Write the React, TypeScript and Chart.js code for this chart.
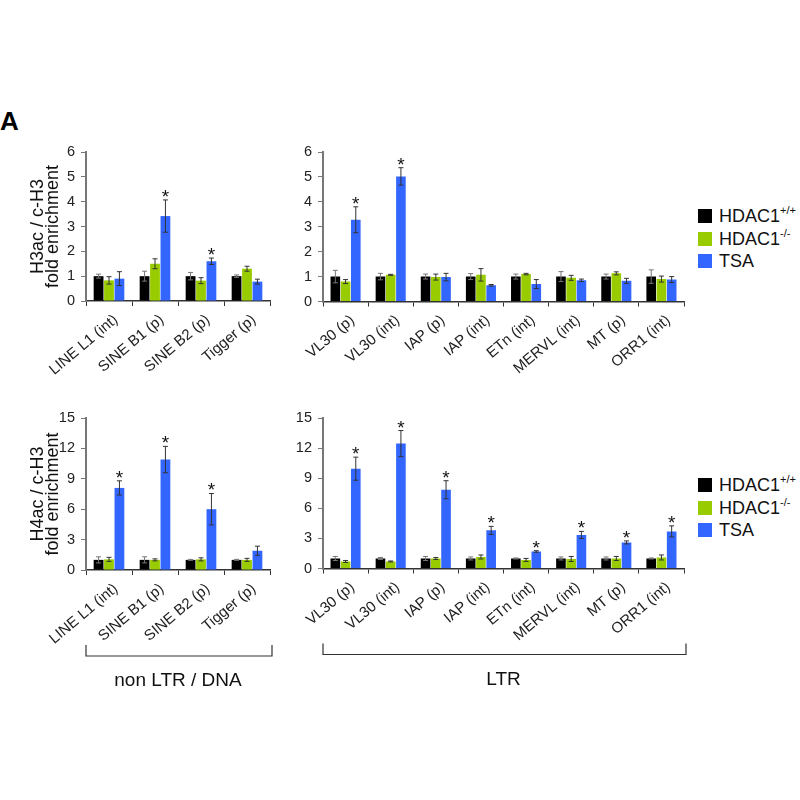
import { useEffect, useRef } from "react";
import { Chart, registerables, type ChartConfiguration, type Plugin } from "chart.js";

Chart.register(...registerables);

const FONT = '"Liberation Sans", Arial, Helvetica, sans-serif';
const WT_COLOR = "#000000";
const KO_COLOR = "#99cc00";
const TSA_COLOR = "#3366ff";

// categories
const nonLtrLabels = ["LINE L1 (int)", "SINE B1 (p)", "SINE B2 (p)", "Tigger (p)"];
const ltrLabels = ["VL30 (p)", "VL30 (int)", "IAP (p)", "IAP (int)", "ETn (int)", "MERVL (int)", "MT (p)", "ORR1 (int)"];

// H3ac / c-H3, non LTR / DNA
const h3NonLtrWt = [1.0, 1.0, 1.0, 1.0];
const h3NonLtrWtErr = [0.08, 0.2, 0.15, 0.05];
const h3NonLtrKo = [0.83, 1.5, 0.82, 1.3];
const h3NonLtrKoErr = [0.15, 0.2, 0.12, 0.1];
const h3NonLtrTsa = [0.9, 3.42, 1.6, 0.78];
const h3NonLtrTsaErr = [0.28, 0.65, 0.13, 0.1];
const h3NonLtrSig = [false, true, true, false];

// H3ac / c-H3, LTR
const h3LtrWt = [1.0, 1.0, 1.0, 1.0, 1.0, 1.0, 1.0, 1.0];
const h3LtrWtErr = [0.25, 0.13, 0.1, 0.12, 0.1, 0.2, 0.1, 0.27];
const h3LtrKo = [0.8, 1.07, 0.98, 1.07, 1.1, 0.95, 1.13, 0.9];
const h3LtrKoErr = [0.08, 0.02, 0.12, 0.25, 0.03, 0.1, 0.06, 0.12];
const h3LtrTsa = [3.28, 5.02, 0.98, 0.65, 0.7, 0.85, 0.83, 0.88];
const h3LtrTsaErr = [0.52, 0.35, 0.15, 0.03, 0.18, 0.05, 0.1, 0.12];
const h3LtrSig = [true, true, false, false, false, false, false, false];

// H4ac / c-H3, non LTR / DNA
const h4NonLtrWt = [1.0, 1.0, 1.0, 1.0];
const h4NonLtrWtErr = [0.3, 0.3, 0.05, 0.05];
const h4NonLtrKo = [1.05, 1.0, 1.05, 1.0];
const h4NonLtrKoErr = [0.2, 0.1, 0.15, 0.15];
const h4NonLtrTsa = [8.1, 10.9, 6.0, 1.9];
const h4NonLtrTsaErr = [0.7, 1.3, 1.55, 0.45];
const h4NonLtrSig = [true, true, true, false];

// H4ac / c-H3, LTR
const h4LtrWt = [1.0, 1.0, 1.0, 1.0, 1.0, 1.0, 1.0, 1.0];
const h4LtrWtErr = [0.2, 0.1, 0.2, 0.15, 0.05, 0.15, 0.15, 0.05];
const h4LtrKo = [0.7, 0.7, 1.0, 1.15, 0.85, 0.95, 1.0, 1.1];
const h4LtrKoErr = [0.1, 0.05, 0.1, 0.2, 0.15, 0.25, 0.2, 0.25];
const h4LtrTsa = [9.95, 12.45, 7.85, 3.8, 1.7, 3.35, 2.6, 3.7];
const h4LtrTsaErr = [1.15, 1.3, 0.9, 0.4, 0.08, 0.35, 0.15, 0.55];
const h4LtrSig = [true, true, true, true, true, true, true, true];

const seriesColors = [WT_COLOR, KO_COLOR, TSA_COLOR];

interface Box {
  left: number;
  top: number;
  width: number;
  height: number;
}

interface Area {
  left: number;
  top: number;
  right: number;
  bottom: number;
}

interface PanelProps {
  labels: string[];
  values: number[][];
  errors: number[][];
  significant: boolean[];
  yMax: number;
  yStep: number;
  yTitle?: string[];
  group?: string;
  box: Box;
  area: Area;
}

function Panel({ labels, values, errors, significant, yMax, yStep, yTitle, group, box, area }: PanelProps) {
  const canvasRef = useRef<HTMLCanvasElement>(null);

  useEffect(() => {
    const canvas = canvasRef.current;
    if (!canvas) return;

    const yWidth = area.left - box.left;
    const xHeight = box.top + box.height - area.bottom;

    const errorBarPlugin: Plugin = {
      id: "errorBars",
      afterDatasetsDraw(chart) {
        const { ctx } = chart;
        const yScale = chart.scales["y"];
        ctx.save();
        chart.data.datasets.forEach((_, di) => {
          const meta = chart.getDatasetMeta(di);
          meta.data.forEach((bar, i) => {
            const v = values[di][i];
            const e = errors[di][i];
            const x = bar.x;
            const yt = yScale.getPixelForValue(v + e);
            const yb = yScale.getPixelForValue(Math.max(0, v - e));
            ctx.strokeStyle = di === 0 ? "#777" : "#333";
            ctx.lineWidth = 1;
            ctx.beginPath();
            ctx.moveTo(x, yt);
            ctx.lineTo(x, yb);
            ctx.moveTo(x - 2.5, yt);
            ctx.lineTo(x + 2.5, yt);
            ctx.moveTo(x - 2.5, yb);
            ctx.lineTo(x + 2.5, yb);
            ctx.stroke();
            if (di === 2 && significant[i]) {
              ctx.fillStyle = "#111";
              ctx.font = `19px ${FONT}`;
              ctx.textAlign = "center";
              ctx.textBaseline = "alphabetic";
              ctx.fillText("*", x, yt + 3);
            }
          });
        });
        ctx.restore();
      },
    };

    const bracketPlugin: Plugin = {
      id: "bracket",
      afterDraw(chart) {
        if (!group) return;
        const { ctx, chartArea } = chart;
        const y = chartArea.bottom + 86;
        ctx.save();
        ctx.strokeStyle = "#333";
        ctx.lineWidth = 1.2;
        ctx.beginPath();
        ctx.moveTo(chartArea.left, y - 11);
        ctx.lineTo(chartArea.left, y);
        ctx.lineTo(chartArea.right + 2, y);
        ctx.lineTo(chartArea.right + 2, y - 11);
        ctx.stroke();
        ctx.fillStyle = "#111";
        ctx.font = `19px ${FONT}`;
        ctx.textAlign = "center";
        ctx.textBaseline = "middle";
        ctx.fillText(group, (chartArea.left + chartArea.right) / 2, chartArea.bottom + 111);
        ctx.restore();
      },
    };

    const config: ChartConfiguration = {
      type: "bar",
      data: {
        labels,
        datasets: values.map((data, i) => ({
          data,
          backgroundColor: seriesColors[i],
          borderWidth: 0,
          categoryPercentage: 0.68,
          barPercentage: 0.94,
        })),
      },
      options: {
        responsive: false,
        animation: false,
        events: [],
        layout: {
          padding: {
            top: area.top - box.top,
            right: box.left + box.width - area.right,
            left: 0,
            bottom: 0,
          },
        },
        plugins: {
          legend: { display: false },
          tooltip: { enabled: false },
        },
        scales: {
          x: {
            afterFit: (scale) => {
              scale.height = xHeight;
            },
            grid: {
              display: true,
              drawOnChartArea: false,
              drawTicks: true,
              tickLength: 5,
              offset: true,
              color: "#333",
            },
            border: { display: true, color: "#333", width: 1.5 },
            ticks: {
              autoSkip: false,
              minRotation: 40,
              maxRotation: 40,
              padding: 5,
              labelOffset: 7,
              color: "#222",
              font: { family: FONT, size: 15 },
            },
          },
          y: {
            min: 0,
            max: yMax,
            afterFit: (scale) => {
              scale.width = yWidth;
            },
            grid: {
              display: true,
              drawOnChartArea: false,
              drawTicks: true,
              tickLength: 5,
              color: "#777",
            },
            border: { display: true, color: "#777", width: 2 },
            ticks: {
              stepSize: yStep,
              padding: 6,
              color: "#222",
              font: { family: FONT, size: 14.5 },
            },
            title: {
              display: !!yTitle,
              text: yTitle ?? "",
              color: "#111",
              padding: { top: 30, bottom: 0 },
              font: { family: FONT, size: 18, lineHeight: 0.85 },
            },
          },
        },
      },
      plugins: [errorBarPlugin, bracketPlugin],
    };

    Chart.getChart(canvas)?.destroy();
    const chart = new Chart(canvas, config);
    return () => {
      chart.destroy();
    };
  }, [labels, values, errors, significant, yMax, yStep, yTitle, group, box, area]);

  return (
    <div style={{ position: "absolute", left: box.left, top: box.top, width: box.width, height: box.height }}>
      <canvas ref={canvasRef} width={box.width} height={box.height} style={{ width: box.width, height: box.height }} />
    </div>
  );
}

function Legend({ top }: { top: number }) {
  const items = [
    { color: WT_COLOR, name: "HDAC1", sup: "+/+" },
    { color: KO_COLOR, name: "HDAC1", sup: "-/-" },
    { color: TSA_COLOR, name: "TSA", sup: "" },
  ];
  return (
    <div style={{ position: "absolute", left: 698, top, fontFamily: FONT, fontSize: 18, color: "#111", whiteSpace: "nowrap" }}>
      {items.map((it) => (
        <div key={it.color} style={{ display: "flex", alignItems: "center", height: 22.5 }}>
          <div style={{ width: 14, height: 14, background: it.color, marginRight: 7 }} />
          <span style={{ lineHeight: 1 }}>
            {it.name}
            {it.sup && (
              <span style={{ fontSize: 11, position: "relative", top: -8 }}>{it.sup}</span>
            )}
          </span>
        </div>
      ))}
    </div>
  );
}

const h3NonLtrValues = [h3NonLtrWt, h3NonLtrKo, h3NonLtrTsa];
const h3NonLtrErrors = [h3NonLtrWtErr, h3NonLtrKoErr, h3NonLtrTsaErr];
const h3LtrValues = [h3LtrWt, h3LtrKo, h3LtrTsa];
const h3LtrErrors = [h3LtrWtErr, h3LtrKoErr, h3LtrTsaErr];
const h4NonLtrValues = [h4NonLtrWt, h4NonLtrKo, h4NonLtrTsa];
const h4NonLtrErrors = [h4NonLtrWtErr, h4NonLtrKoErr, h4NonLtrTsaErr];
const h4LtrValues = [h4LtrWt, h4LtrKo, h4LtrTsa];
const h4LtrErrors = [h4LtrWtErr, h4LtrKoErr, h4LtrTsaErr];

const h3Title = ["H3ac / c-H3", "fold enrichment"];
const h4Title = ["H4ac / c-H3", "fold enrichment"];

const boxTL = { left: 0, top: 130, width: 280, height: 270 };
const areaTL = { left: 86, top: 152, right: 270, bottom: 301 };
const boxTR = { left: 280, top: 130, width: 410, height: 270 };
const areaTR = { left: 323, top: 152, right: 684, bottom: 301.5 };
const boxBL = { left: 0, top: 396, width: 280, height: 300 };
const areaBL = { left: 86, top: 418, right: 270, bottom: 570 };
const boxBR = { left: 280, top: 396, width: 410, height: 300 };
const areaBR = { left: 323, top: 418, right: 684, bottom: 568.5 };

export default function App() {
  return (
    <div style={{ position: "fixed", left: 0, top: 0, width: 800, height: 800, background: "#fff", overflow: "hidden" }}>
      <div style={{ position: "absolute", left: 0, top: 106, fontFamily: FONT, fontWeight: "bold", fontSize: 26, color: "#000" }}>
        A
      </div>
      <Panel
        labels={nonLtrLabels}
        values={h3NonLtrValues}
        errors={h3NonLtrErrors}
        significant={h3NonLtrSig}
        yMax={6}
        yStep={1}
        yTitle={h3Title}
        box={boxTL}
        area={areaTL}
      />
      <Panel
        labels={ltrLabels}
        values={h3LtrValues}
        errors={h3LtrErrors}
        significant={h3LtrSig}
        yMax={6}
        yStep={1}
        box={boxTR}
        area={areaTR}
      />
      <Panel
        labels={nonLtrLabels}
        values={h4NonLtrValues}
        errors={h4NonLtrErrors}
        significant={h4NonLtrSig}
        yMax={15}
        yStep={3}
        yTitle={h4Title}
        group="non LTR / DNA"
        box={boxBL}
        area={areaBL}
      />
      <Panel
        labels={ltrLabels}
        values={h4LtrValues}
        errors={h4LtrErrors}
        significant={h4LtrSig}
        yMax={15}
        yStep={3}
        group="LTR"
        box={boxBR}
        area={areaBR}
      />
      <Legend top={205} />
      <Legend top={474} />
    </div>
  );
}
